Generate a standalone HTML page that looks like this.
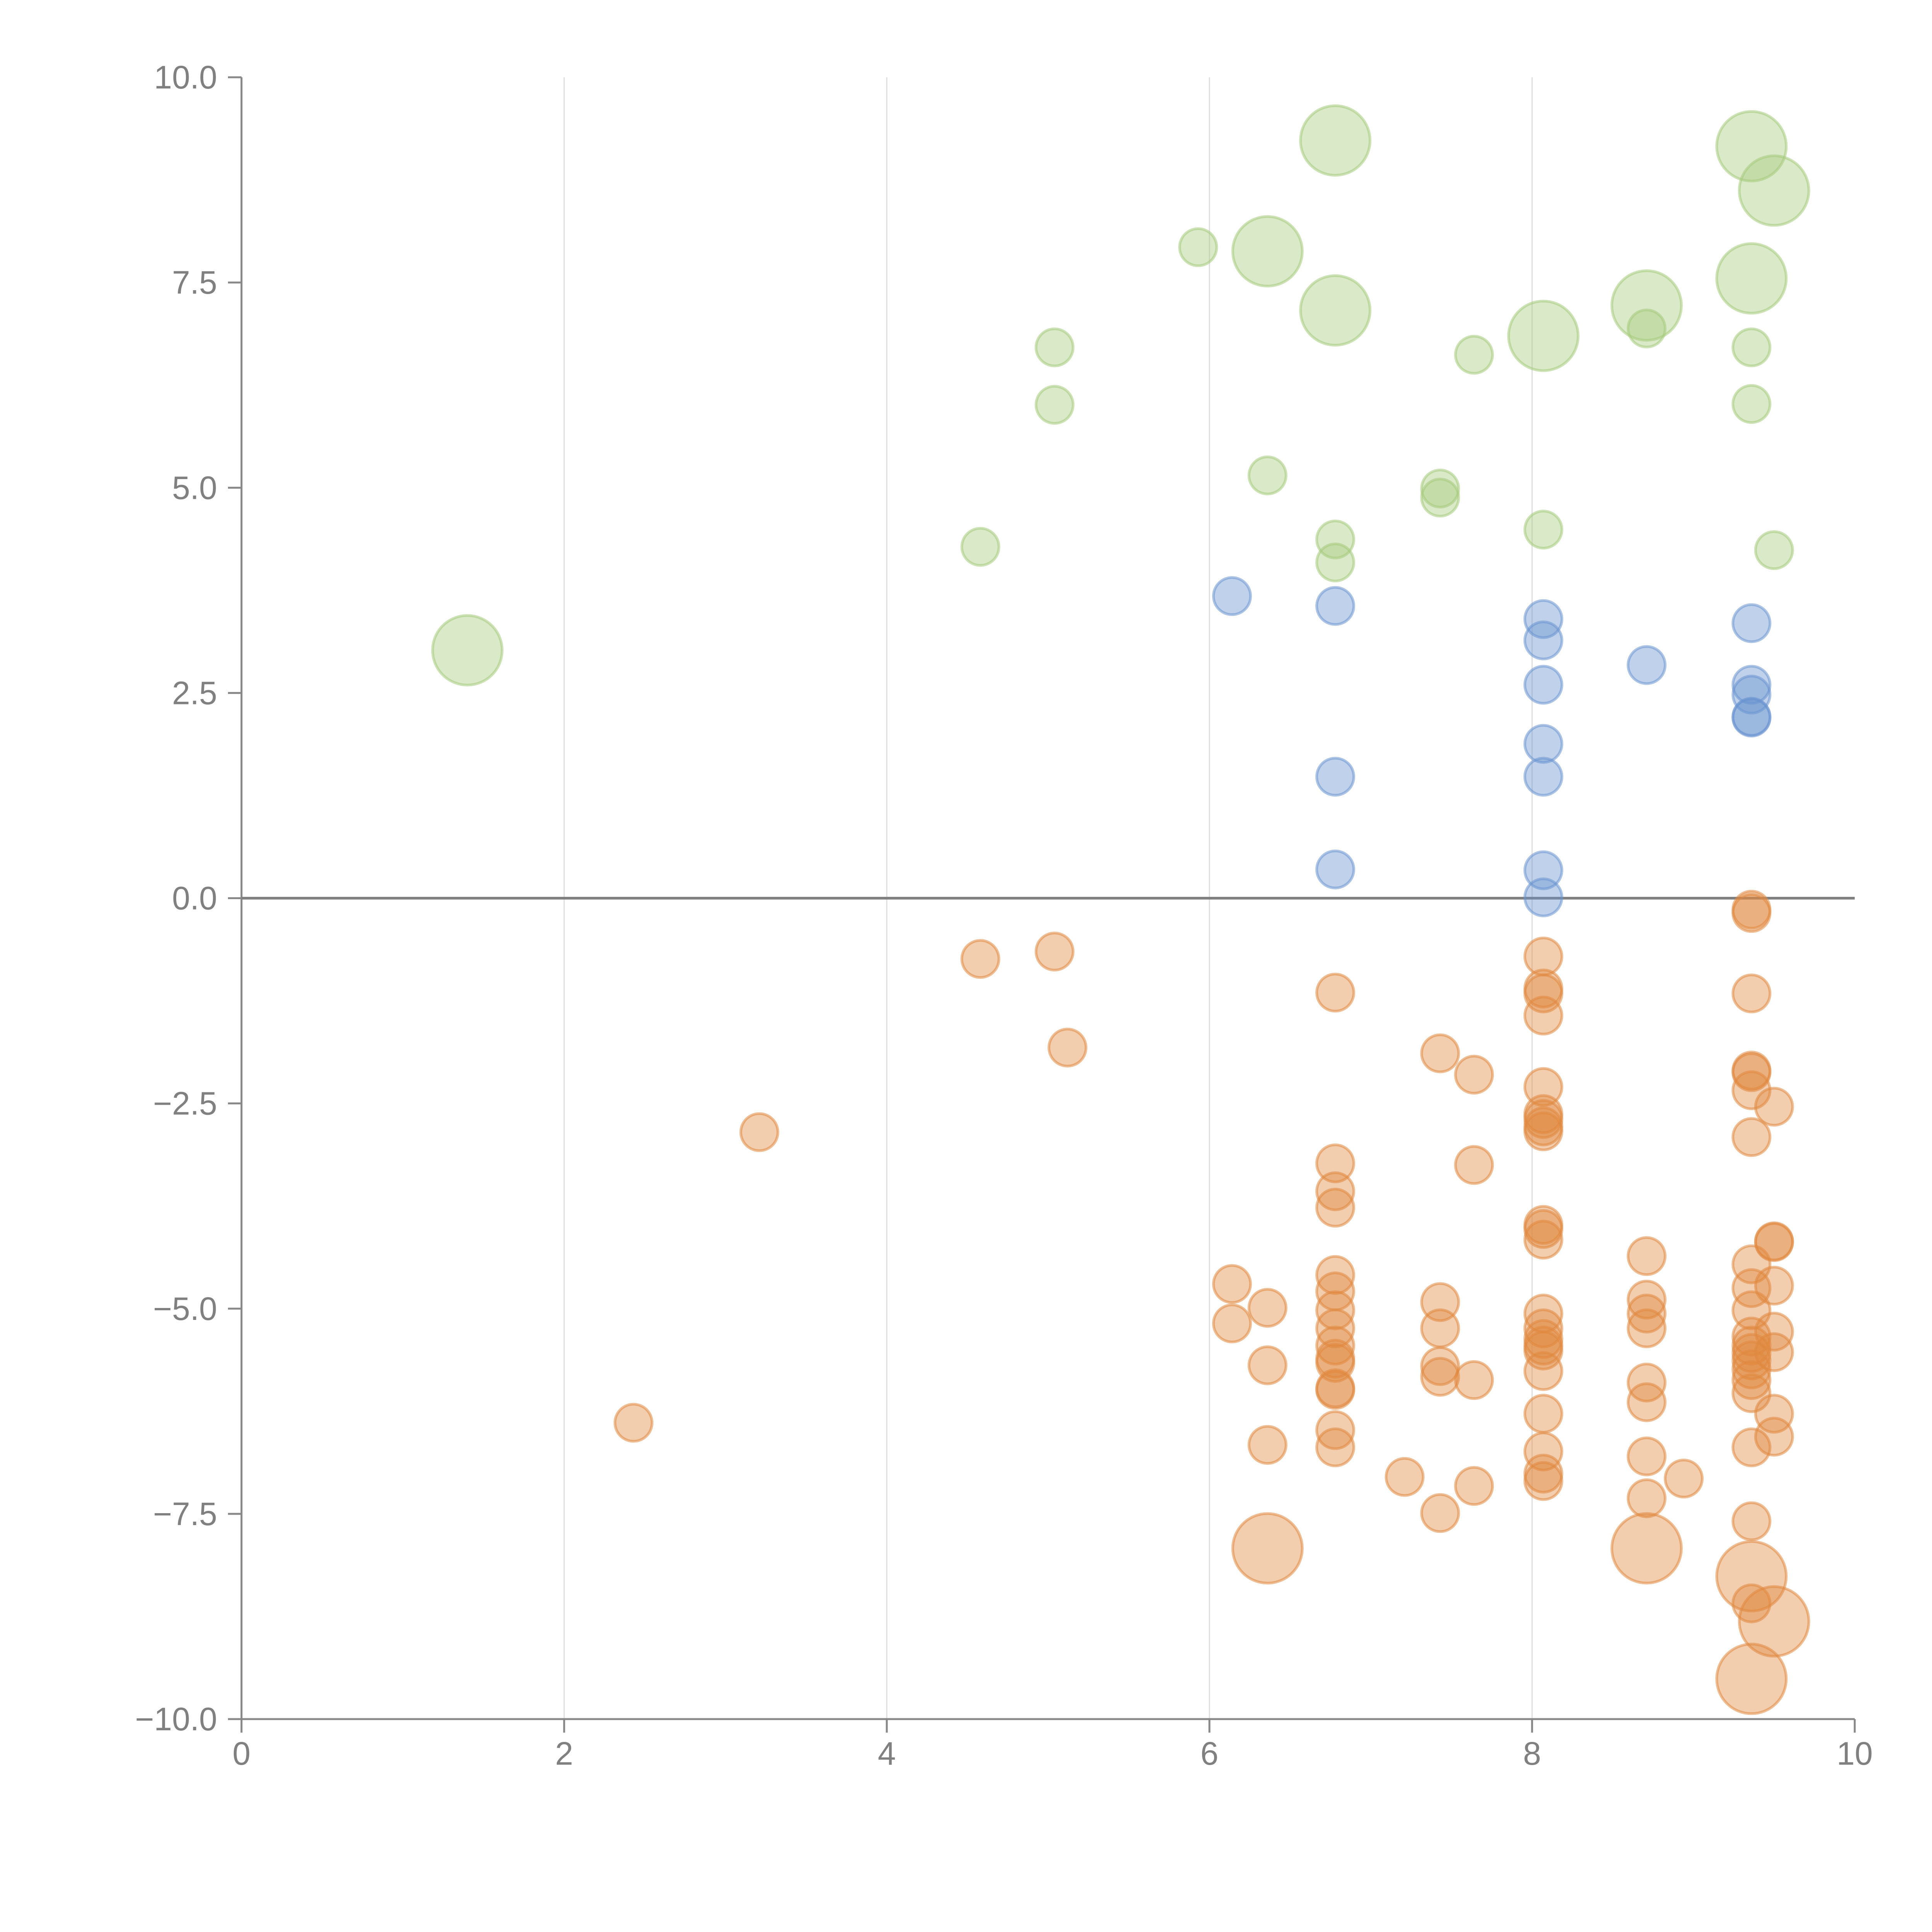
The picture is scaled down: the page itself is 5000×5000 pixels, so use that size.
<!DOCTYPE html>
<html><head><meta charset="utf-8"><style>
html,body{margin:0;padding:0;background:#fff;}
svg{display:block;font-family:"Liberation Sans",Arial,sans-serif;}
</style></head><body>
<svg id="chart" width="5000" height="5000" viewBox="0 0 5000 5000" xmlns="http://www.w3.org/2000/svg">
<g id="grid"></g>
<g id="axes"></g>
<g id="marks"></g>
</svg>
<script>
const xTicks=[0,2,4,6,8,10];
const yTicks=[10,7.5,5,2.5,0,-2.5,-5,-7.5,-10];
const yTickLabels=["10.0","7.5","5.0","2.5","0.0","\u22122.5","\u22125.0","\u22127.5","\u221210.0"];
const greenX=[6.78,9.36,9.50,5.93,6.36,9.36,6.78,8.71,8.07,8.71,9.36,5.04,7.64,5.04,9.36,6.36,7.43,7.43,8.07,6.78,9.50,4.58,6.78,1.40];
const greenY=[9.23,9.16,8.62,7.93,7.88,7.55,7.16,7.22,6.85,6.94,6.71,6.71,6.62,6.01,6.02,5.15,4.99,4.88,4.49,4.37,4.24,4.28,4.09,3.02];
const greenSize=[2,2,2,1,2,2,2,2,2,1,1,1,1,1,1,1,1,1,1,1,1,1,1,2];
const blueX=[6.14,6.78,8.07,9.36,8.07,8.71,8.07,9.36,9.36,9.36,9.36,8.07,6.78,8.07,6.78,8.07,8.07];
const blueY=[3.68,3.56,3.40,3.35,3.14,2.84,2.60,2.60,2.48,2.21,2.20,1.88,1.48,1.48,0.35,0.34,0.01];
const orangeX=[9.36,9.36,5.04,4.58,8.07,8.07,8.07,6.78,9.36,8.07,5.12,7.43,7.64,9.36,9.36,8.07,9.36,9.50,8.07,8.07,8.07,8.07,3.21,9.36,6.78,7.64,6.78,6.78,8.07,8.07,8.07,9.50,9.50,8.71,9.36,6.78,6.14,9.50,9.36,6.78,7.43,8.71,6.36,6.78,9.36,8.07,8.71,8.07,6.14,6.78,7.43,8.71,9.50,9.36,8.07,6.78,8.07,9.36,8.07,9.36,9.50,6.78,9.36,6.78,6.36,7.43,9.36,8.07,7.43,7.64,9.36,8.71,6.78,6.78,9.36,8.71,8.07,9.50,6.78,2.43,9.50,6.36,9.36,6.78,8.07,8.71,8.07,7.21,8.94,8.07,7.64,8.71,7.43,9.36,6.36,8.71,9.36,9.36,9.50,9.36];
const orangeY=[-0.14,-0.18,-0.65,-0.74,-0.71,-1.10,-1.16,-1.15,-1.16,-1.43,-1.82,-1.89,-2.15,-2.10,-2.12,-2.30,-2.34,-2.54,-2.63,-2.69,-2.78,-2.84,-2.85,-2.91,-3.23,-3.25,-3.57,-3.77,-3.98,-4.03,-4.16,-4.18,-4.19,-4.36,-4.46,-4.59,-4.70,-4.72,-4.75,-4.79,-4.92,-4.89,-4.99,-5.02,-5.02,-5.06,-5.06,-5.24,-5.18,-5.24,-5.24,-5.24,-5.28,-5.34,-5.37,-5.45,-5.45,-5.45,-5.51,-5.54,-5.53,-5.61,-5.63,-5.66,-5.69,-5.70,-5.74,-5.76,-5.83,-5.87,-5.87,-5.90,-5.99,-5.97,-6.03,-6.14,-6.28,-6.28,-6.48,-6.39,-6.56,-6.66,-6.69,-6.69,-6.74,-6.80,-7.01,-7.05,-7.07,-7.10,-7.16,-7.31,-7.49,-7.59,-7.92,-7.92,-8.26,-8.59,-8.81,-9.51];
const orangeSize=[1,1,1,1,1,1,1,1,1,1,1,1,1,1,1,1,1,1,1,1,1,1,1,1,1,1,1,1,1,1,1,1,1,1,1,1,1,1,1,1,1,1,1,1,1,1,1,1,1,1,1,1,1,1,1,1,1,1,1,1,1,1,1,1,1,1,1,1,1,1,1,1,1,1,1,1,1,1,1,1,1,1,1,1,1,1,1,1,1,1,1,1,1,1,2,2,2,1,2,2];

const NS="http://www.w3.org/2000/svg";
const X0=625,X1=4800,Y0=200,Y1=4449;
function sx(v){return X0+(v-0)/(10-0)*(X1-X0);}
function sy(v){return Y1-(v+10)/20*(Y1-Y0);}
function rad(s){return s===2?90:48;}
function mk(tag,attrs,parent){const e=document.createElementNS(NS,tag);for(const k in attrs)e.setAttribute(k,attrs[k]);parent.appendChild(e);return e;}
const grid=document.getElementById('grid'),axes=document.getElementById('axes'),marks=document.getElementById('marks');
xTicks.forEach(t=>{
  if(t>0&&t<10){const g=mk('line',{x1:sx(t),x2:sx(t),y1:Y0,y2:Y1,stroke:'#dcdcdc','stroke-width':3},grid);
  
  }
  const tk=mk('line',{x1:sx(t),x2:sx(t),y1:Y1,y2:Y1+35,stroke:'#888','stroke-width':5},axes);
  
  
  const lb=mk('text',{x:sx(t),y:Y1+118,'text-anchor':'middle','font-size':84,fill:'#808080'},axes);
  lb.textContent=String(t);
  
  
});
yTicks.forEach((t,i)=>{
  const tk=mk('line',{x1:X0-35,x2:X0,y1:sy(t),y2:sy(t),stroke:'#888','stroke-width':5},axes);
  
  
  const lb=mk('text',{x:X0-63,y:sy(t)+29,'text-anchor':'end','font-size':84,fill:'#808080'},axes);
  lb.textContent=yTickLabels[i];
  
  
});
const ya=mk('line',{x1:X0,x2:X0,y1:Y0,y2:Y1,stroke:'#888','stroke-width':5},axes);


const xa=mk('line',{x1:X0,x2:X1,y1:Y1,y2:Y1,stroke:'#888','stroke-width':5},axes);


const zl=mk('line',{x1:X0,x2:X1,y1:sy(0),y2:sy(0),stroke:'#808080','stroke-width':7},axes);


function series(xs,ys,ss,color,name){
  xs.forEach((x,i)=>{
    const c=mk('circle',{cx:sx(x),cy:sy(ys[i]),r:rad(ss?ss[i]:1),fill:color,'fill-opacity':0.42,stroke:color,'stroke-opacity':0.55,'stroke-width':7},marks);
    
    
  });
}
series(greenX,greenY,greenSize,'#a6ca7c','green-bubble');
series(orangeX,orangeY,orangeSize,'#e0893f','orange-bubble');
series(blueX,blueY,null,'#6a93cf','blue-bubble');
</script>
</body></html>
